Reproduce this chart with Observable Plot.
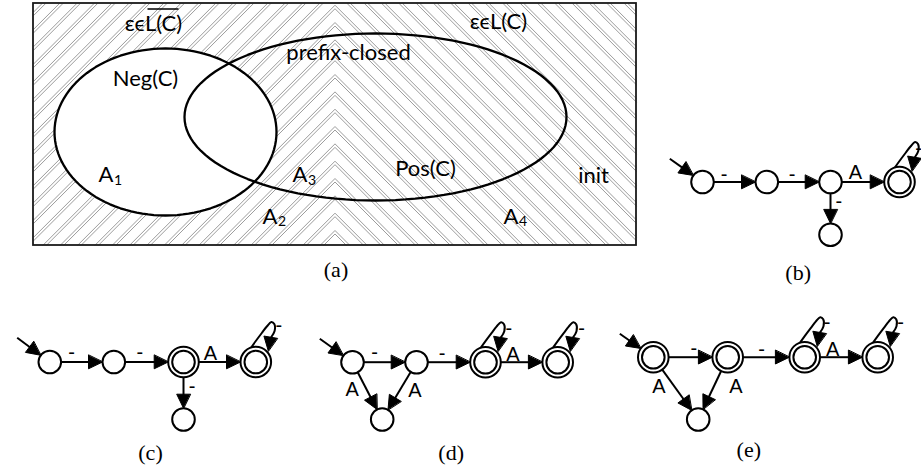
<!DOCTYPE html>
<html><head><meta charset="utf-8">
<script src="https://cdn.jsdelivr.net/npm/d3@7"></script>
<script src="https://cdn.jsdelivr.net/npm/@observablehq/plot@0.6"></script>
<style>body{margin:0;background:#fff}</style>
</head><body><div id="chart"></div>
<script>
const W = 921, H = 472;

// ---------- Panel (a): Venn diagram ----------
const vennBox = [{x1: 33, y1: 3, x2: 636, y2: 245}];
const ellipses = [
  {name: "Neg(C)", cx: 165, cy: 131.5, rx: 111, ry: 83.5},
  {name: "Pos(C)", cx: 375, cy: 116.5, rx: 191, ry: 83.5}
];
const vennLabels = [
  {text: "εϵL(C)", x: 153, y: 30.5},
  {text: "εϵL(C)", x: 498, y: 28},
  {text: "prefix-closed", x: 348, y: 59},
  {text: "Neg(C)", x: 145, y: 85.5},
  {text: "Pos(C)", x: 425, y: 175},
  {text: "init", x: 593, y: 182}
];
const overlines = [{x1: 147, x2: 178, y: 8.5}];
const areaLabels = [
  {base: "A", sub: "1", x: 98, y: 181.5},
  {base: "A", sub: "2", x: 262, y: 223},
  {base: "A", sub: "3", x: 292, y: 181.5},
  {base: "A", sub: "4", x: 503, y: 223}
];

// ---------- Panels (b)-(e): automata ----------
const nodes = [
  {p: "b", id: 1, x: 702, y: 181.5, acc: false},
  {p: "b", id: 2, x: 766.3, y: 181.5, acc: false},
  {p: "b", id: 3, x: 830, y: 181.5, acc: false},
  {p: "b", id: 4, x: 899, y: 181.5, acc: true},
  {p: "b", id: 5, x: 830, y: 234.2, acc: false},
  {p: "c", id: 1, x: 49.3, y: 361.5, acc: false},
  {p: "c", id: 2, x: 113.3, y: 361.5, acc: false},
  {p: "c", id: 3, x: 183, y: 361.5, acc: true},
  {p: "c", id: 4, x: 255.3, y: 361.5, acc: true},
  {p: "c", id: 5, x: 183, y: 419, acc: false},
  {p: "d", id: 1, x: 352, y: 361.7, acc: false},
  {p: "d", id: 2, x: 416, y: 361.7, acc: false},
  {p: "d", id: 3, x: 485, y: 361.7, acc: true},
  {p: "d", id: 4, x: 557.2, y: 361.7, acc: true},
  {p: "d", id: 5, x: 381.7, y: 419, acc: false},
  {p: "e", id: 1, x: 652.8, y: 356.7, acc: true},
  {p: "e", id: 2, x: 727.2, y: 356.7, acc: true},
  {p: "e", id: 3, x: 804.2, y: 356.7, acc: true},
  {p: "e", id: 4, x: 877.2, y: 356.7, acc: true},
  {p: "e", id: 5, x: 697.7, y: 419, acc: false}
];
const edges = [
  {p: "b", from: 1, to: 2}, {p: "b", from: 2, to: 3}, {p: "b", from: 3, to: 4}, {p: "b", from: 3, to: 5},
  {p: "c", from: 1, to: 2}, {p: "c", from: 2, to: 3}, {p: "c", from: 3, to: 4}, {p: "c", from: 3, to: 5},
  {p: "d", from: 1, to: 2}, {p: "d", from: 2, to: 3}, {p: "d", from: 3, to: 4}, {p: "d", from: 1, to: 5}, {p: "d", from: 2, to: 5},
  {p: "e", from: 1, to: 2}, {p: "e", from: 2, to: 3}, {p: "e", from: 3, to: 4}, {p: "e", from: 1, to: 5}, {p: "e", from: 2, to: 5}
];
const initArrows = [
  {p: "b", to: 1, x: 669.3, y: 158.3},
  {p: "c", to: 1, x: 16.7, y: 337.3},
  {p: "d", to: 1, x: 319.3, y: 338.3},
  {p: "e", to: 1, x: 619.3, y: 333.3}
];
const selfLoops = [
  {p: "b", node: 4}, {p: "c", node: 4},
  {p: "d", node: 3}, {p: "d", node: 4},
  {p: "e", node: 3}, {p: "e", node: 4}
];
const edgeLabels = [
  {text: "-", x: 723.5, y: 180}, {text: "-", x: 791.7, y: 180}, {text: "A", x: 855, y: 178.5},
  {text: "-", x: 838.3, y: 207.5}, {text: "-", x: 918, y: 154},
  {text: "-", x: 71, y: 358.5}, {text: "-", x: 139.3, y: 358.5}, {text: "A", x: 210, y: 359.3},
  {text: "-", x: 191.7, y: 392}, {text: "-", x: 278.3, y: 331},
  {text: "-", x: 374, y: 358.5}, {text: "-", x: 441.7, y: 359.2}, {text: "A", x: 512.5, y: 360},
  {text: "A", x: 351.7, y: 395}, {text: "A", x: 414.5, y: 396.7},
  {text: "-", x: 508.3, y: 334.2}, {text: "-", x: 581, y: 334.2},
  {text: "-", x: 693.3, y: 354.2}, {text: "-", x: 761, y: 355.2}, {text: "A", x: 832.2, y: 355},
  {text: "A", x: 658.3, y: 392.7}, {text: "A", x: 735.5, y: 392.7},
  {text: "-", x: 826.7, y: 328.5}, {text: "-", x: 900, y: 328.5}
];
const captions = [
  {text: "(a)", x: 335.5, y: 276.5},
  {text: "(b)", x: 797.7, y: 279},
  {text: "(c)", x: 150, y: 459.5},
  {text: "(d)", x: 450.7, y: 459.5},
  {text: "(e)", x: 748.3, y: 456.5}
];

// ---------- geometry helpers (drawing style) ----------
const R_IN = 11.3, R_OUT = 15.3, HEAD_L = 14, HEAD_W = 6.8;
const rOf = n => n.acc ? R_OUT : R_IN;
const nodeBy = new Map(nodes.map(n => [n.p + n.id, n]));
const shafts = [], heads = [];
function addHead(id, tx, ty, ux, uy) {
  const bx = tx - HEAD_L * ux, by = ty - HEAD_L * uy;
  heads.push({id, x: tx, y: ty});
  heads.push({id, x: bx - HEAD_W * uy, y: by + HEAD_W * ux});
  heads.push({id, x: bx + HEAD_W * uy, y: by - HEAD_W * ux});
  return [bx, by];
}
function arrow(id, sx, sy, B, startR) {
  const dx = B.x - sx, dy = B.y - sy, L = Math.hypot(dx, dy);
  const ux = dx / L, uy = dy / L;
  const x0 = sx + startR * ux, y0 = sy + startR * uy;
  const tx = B.x - rOf(B) * ux, ty = B.y - rOf(B) * uy;
  const [bx, by] = addHead(id, tx, ty, ux, uy);
  shafts.push({x1: x0, y1: y0, x2: bx + ux, y2: by + uy});
}
edges.forEach((e, i) => {
  const A = nodeBy.get(e.p + e.from), B = nodeBy.get(e.p + e.to);
  arrow("e" + i, A.x, A.y, B, rOf(A));
});
initArrows.forEach((a, i) => arrow("i" + i, a.x, a.y, nodeBy.get(a.p + a.to), 0));

const loopShape = [[-5, -14], [0, -21], [6, -29], [11, -35.5], [15.5, -40], [18.5, -38], [18.8, -31], [15.2, -24.5]];
const loopTip = [12.5, -11], loopBase = [14.7, -24];
const loopPts = [];
selfLoops.forEach((l, i) => {
  const n = nodeBy.get(l.p + l.node);
  loopShape.forEach(([dx, dy]) => loopPts.push({id: "l" + i, x: n.x + dx, y: n.y + dy}));
  const vx = loopTip[0] - loopBase[0], vy = loopTip[1] - loopBase[1], L = Math.hypot(vx, vy);
  addHead("lh" + i, n.x + loopTip[0], n.y + loopTip[1], vx / L, vy / L);
});

const ellipsePts = ellipses.flatMap(e => d3.range(0, 360, 3).map(a => ({
  name: e.name,
  x: e.cx + e.rx * Math.cos(a * Math.PI / 180),
  y: e.cy + e.ry * Math.sin(a * Math.PI / 180)
})));

// hatch: chevron pattern, apexes on the box's vertical centre line
function hatch(box, period, apexRef, offsets) {
  const mid = (box.x1 + box.x2) / 2, segs = [];
  for (let n = -2; n < 45; n++) for (const o of offsets) {
    const apex = apexRef - period * n + o, k = apex + mid;
    const xa = Math.max(box.x1, k - box.y2), xb = Math.min(mid, k - box.y1);
    if (xb > xa) segs.push({x1: xa, y1: k - xa, x2: xb, y2: k - xb});
    const xc = Math.max(mid, mid + box.y1 - apex), xd = Math.min(box.x2, mid + box.y2 - apex);
    if (xd > xc) segs.push({x1: xc, y1: apex + xc - mid, x2: xd, y2: apex + xd - mid});
  }
  return segs;
}
const hatchSegs = hatch(vennBox[0], 17.33, 230, [0, 3.5]);

const SANS_A = "Lato, 'Noto Sans', 'DejaVu Sans', sans-serif";
const SANS_B = "'Liberation Sans', Arial, sans-serif";
const SERIF = "'Liberation Serif', 'Times New Roman', serif";

const chart = Plot.plot({
  width: W, height: H, margin: 0,
  x: {domain: [0, W], range: [0, W], axis: null},
  y: {domain: [0, H], range: [0, H], axis: null},
  style: {background: "white"},
  marks: [
    Plot.rect(vennBox, {x1: "x1", y1: "y1", x2: "x2", y2: "y2", fill: "white"}),
    Plot.link(hatchSegs, {x1: "x1", y1: "y1", x2: "x2", y2: "y2", stroke: "#9c9c9c", strokeWidth: 1}),
    Plot.line(ellipsePts.filter(d => d.name === "Neg(C)"), {x: "x", y: "y", fill: "white", stroke: "none", curve: "linear-closed"}),
    Plot.line(ellipsePts, {x: "x", y: "y", z: "name", stroke: "black", strokeWidth: 2.3, curve: "linear-closed"}),
    Plot.rect(vennBox, {x1: "x1", y1: "y1", x2: "x2", y2: "y2", fill: "none", stroke: "#1a1a1a", strokeWidth: 1.8}),
    Plot.text(vennLabels, {x: "x", y: "y", text: "text", fontFamily: SANS_A, fontSize: 22, lineAnchor: "bottom", fill: "black"}),
    Plot.link(overlines, {x1: "x1", x2: "x2", y1: "y", y2: "y", stroke: "black", strokeWidth: 1.5}),
    Plot.text(areaLabels, {x: "x", y: "y", text: "base", textAnchor: "start", fontFamily: SANS_A, fontSize: 22, lineAnchor: "bottom", fill: "black"}),
    Plot.text(areaLabels, {x: "x", y: "y", text: "sub", textAnchor: "start", dx: 15.5, dy: 2.5, fontFamily: SANS_A, fontSize: 14, lineAnchor: "bottom", fill: "black"}),

    Plot.line(loopPts, {x: "x", y: "y", z: "id", stroke: "black", strokeWidth: 2, curve: "catmull-rom"}),
    Plot.dot(nodes.filter(d => d.acc), {x: "x", y: "y", r: R_OUT, fill: "white", stroke: "black", strokeWidth: 2}),
    Plot.dot(nodes, {x: "x", y: "y", r: R_IN, fill: "white", stroke: "black", strokeWidth: 2}),
    Plot.link(shafts, {x1: "x1", y1: "y1", x2: "x2", y2: "y2", stroke: "black", strokeWidth: 2}),
    Plot.line(heads, {x: "x", y: "y", z: "id", fill: "black", stroke: "black", strokeWidth: 1, curve: "linear-closed"}),
    Plot.text(edgeLabels, {x: "x", y: "y", text: "text", fontFamily: SANS_B, fontSize: 20, fontWeight: 500, lineAnchor: "bottom", fill: "black"}),
    Plot.text(captions, {x: "x", y: "y", text: "text", fontFamily: SERIF, fontSize: 22, lineAnchor: "bottom", fill: "black"})
  ]
});
document.getElementById("chart").append(chart);
</script>
</body></html>
